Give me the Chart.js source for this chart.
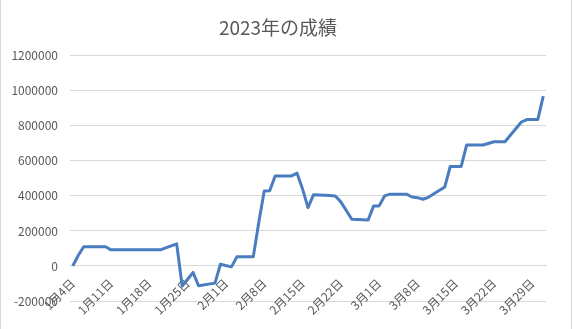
<!DOCTYPE html>
<html>
<head>
<meta charset="utf-8">
<title>2023年の成績</title>
<script src="https://cdn.jsdelivr.net/npm/chart.js"></script>
<style>
  html, body { margin: 0; padding: 0; background: #fff; }
  #wrap { width: 573px; height: 329px; position: relative; }
</style>
</head>
<body>
<div id="wrap"><canvas id="chart"></canvas></div>
<script>
// chart data (trading days, month/day of 2023)
const chartTitle = '2023年の成績';
const dates = [
  '1/4', '1/5', '1/6', '1/10', '1/11', '1/12', '1/13', '1/16', '1/17', '1/18', '1/19', '1/20',
  '1/23', '1/24', '1/26', '1/27', '1/30', '1/31', '2/2', '2/3',
  '2/6', '2/7', '2/8', '2/9', '2/10', '2/13', '2/14', '2/15', '2/16', '2/17',
  '2/20', '2/21', '2/22', '2/24', '2/27', '2/28', '3/1', '3/2', '3/3',
  '3/6', '3/7', '3/8', '3/9', '3/10', '3/13', '3/14', '3/15', '3/16', '3/17',
  '3/20', '3/22', '3/23', '3/24', '3/27', '3/28', '3/29', '3/30', '3/31'
];
const values = [
  0, 60000, 110000, 110000, 92000, 92000, 92000, 92000, 92000, 92000, 92000, 92000,
  126000, -114000, -37000, -113000, -98000, 10000, -5000, 52000,
  52000, 248000, 428000, 430000, 514000, 514000, 530000, 440000, 333000, 406000,
  402000, 400000, 366000, 267000, 263000, 343000, 343000, 400000, 410000,
  410000, 394000, 390000, 381000, 392000, 451000, 568000, 568000, 568000, 691000,
  691000, 709000, 709000, 709000, 822000, 836000, 836000, 836000, 970000
];
const tickLabels = [
  '1月4日', '1月11日', '1月18日', '1月25日', '2月1日', '2月8日', '2月15日',
  '2月22日', '3月1日', '3月8日', '3月15日', '3月22日', '3月29日'
];
const yMin = -200000;
const yMax = 1200000;
const yStep = 200000;

function dayOffset(m, d) {
  return (Date.UTC(2023, m - 1, d) - Date.UTC(2023, 0, 4)) / 86400000;
}
function parseSlash(s) {
  const p = s.split('/').map(Number);
  return dayOffset(p[0], p[1]);
}
function parseJa(s) {
  const m = s.match(/(\d+)月(\d+)日/);
  return dayOffset(+m[1], +m[2]);
}

const points = dates.map((d, i) => ({ x: parseSlash(d), y: values[i] }));
const tickDays = tickLabels.map(parseJa);
const firstDay = points[0].x;
const lastDay = points[points.length - 1].x;

const font = "'Noto Sans CJK JP', 'Noto Sans', sans-serif";
const textColor = '#595959';
const gridColor = '#d9d9d9';

// light frame like the spreadsheet chart area
const framePlugin = {
  id: 'frame',
  afterDraw(chart) {
    const c = chart.ctx;
    c.save();
    c.strokeStyle = gridColor;
    c.lineWidth = 1;
    c.beginPath();
    c.moveTo(0.5, 0);
    c.lineTo(0.5, chart.height);
    c.moveTo(571.5, 0);
    c.lineTo(571.5, chart.height);
    c.stroke();
    c.restore();
  }
};

new Chart(document.getElementById('chart'), {
  type: 'line',
  data: {
    datasets: [{
      data: points,
      borderColor: '#4A7DBF',
      borderWidth: 3,
      pointRadius: 0,
      tension: 0,
      fill: false,
      borderJoinStyle: 'round'
    }]
  },
  options: {
    responsive: true,
    maintainAspectRatio: false,
    animation: false,
    layout: { padding: { left: 10, right: 27, top: 0, bottom: 28 } },
    plugins: {
      legend: { display: false },
      tooltip: { enabled: false },
      title: {
        display: true,
        text: chartTitle,
        color: textColor,
        font: { family: font, size: 19, weight: 'normal' },
        padding: { top: 16, bottom: 17 }
      }
    },
    scales: {
      x: {
        type: 'linear',
        position: { y: 0 },
        min: firstDay - 0.5,
        max: lastDay + 0.5,
        afterBuildTicks: s => { s.ticks = tickDays.map(v => ({ value: v })); },
        grid: { display: false },
        border: { display: true, color: gridColor },
        ticks: {
          autoSkip: false,
          minRotation: 45,
          maxRotation: 45,
          padding: 2,
          color: textColor,
          font: { family: font, size: 12 },
          callback: (v, i) => tickLabels[i]
        }
      },
      y: {
        min: yMin,
        max: yMax,
        afterFit: s => { s.width = 60; },
        grid: { color: gridColor, drawTicks: false },
        border: { display: false },
        ticks: {
          stepSize: yStep,
          padding: 12,
          color: textColor,
          font: { family: font, size: 12 },
          callback: v => String(v)
        }
      }
    }
  },
  plugins: [framePlugin]
});
</script>
</body>
</html>
